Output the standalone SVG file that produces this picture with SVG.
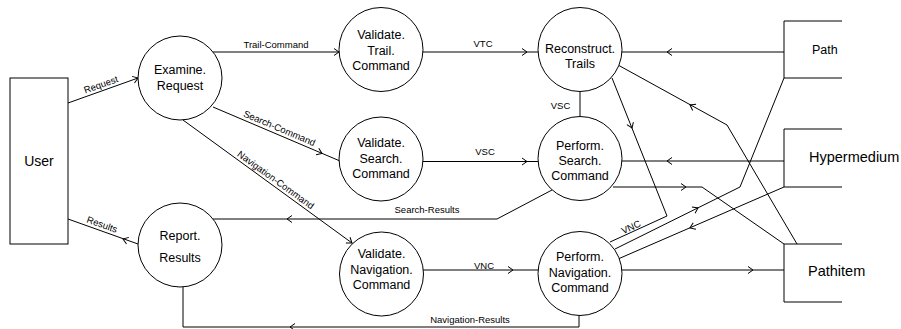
<svg xmlns="http://www.w3.org/2000/svg" xmlns:xlink="http://www.w3.org/1999/xlink" width="901" height="329" viewBox="0 0 901 329">
<defs>
<style>
.n{fill:#fff;stroke:#000;stroke-width:1}
.s{fill:none;stroke:#000;stroke-width:1}
.t{font-family:"Liberation Sans",Arial,sans-serif;font-size:12.5px;fill:#000;text-anchor:middle}
.big{font-family:"Liberation Sans",Arial,sans-serif;font-size:14.5px;fill:#000}
.l{font-family:"Liberation Sans",Arial,sans-serif;font-size:9.5px;fill:#000;text-anchor:middle}
.c{fill:none;stroke:#000;stroke-width:1}
</style>
<path id="ah" d="M-5,-3.5 L0,0 L-5,3.5" fill="none" stroke="#000" stroke-width="1"/>
</defs>
<rect width="901" height="329" fill="#fff"/>

<g id="connectors">
<path class="c" d="M68,103 L138,78"/>
<path class="c" d="M213,52 L339,52"/>
<path class="c" d="M213,107 L340,161"/>
<path class="c" d="M183,120 L352,243"/>
<path class="c" d="M423,52 L538,52"/>
<path class="c" d="M423,161.5 L538,161.5"/>
<path class="c" d="M580,91 L580,117"/>
<path class="c" d="M784,52 L622,52"/>
<path class="c" d="M784,161 L622,161"/>
<path class="c" d="M613,187 L702,187 L784,244"/>
<path class="c" d="M552,190 L497,219 L213,219"/>
<path class="c" d="M138,244 L68,219"/>
<path class="c" d="M423,270 L538,270"/>
<path class="c" d="M579,313 L579,327 L183,327 L183,287"/>
<path class="c" d="M612,78 L667,216 L610,242"/>
<path class="c" d="M615,249 L740,187 L784,78"/>
<path class="c" d="M784,187 L618,259"/>
<path class="c" d="M797,244 L727,125 L618,65"/>
<path class="c" d="M622,270 L784,270"/>
<use xlink:href="#ah" transform="translate(138,78) rotate(-19.65)"/>
<use xlink:href="#ah" transform="translate(339,52)"/>
<use xlink:href="#ah" transform="translate(322,153.5) rotate(23)"/>
<use xlink:href="#ah" transform="translate(352,243) rotate(36)"/>
<use xlink:href="#ah" transform="translate(527,52)"/>
<use xlink:href="#ah" transform="translate(527,161.5)"/>
<use xlink:href="#ah" transform="translate(667,52) rotate(180)"/>
<use xlink:href="#ah" transform="translate(667,161) rotate(180)"/>
<use xlink:href="#ah" transform="translate(686,187)"/>
<use xlink:href="#ah" transform="translate(287,219) rotate(180)"/>
<use xlink:href="#ah" transform="translate(123,239) rotate(-160.35)"/>
<use xlink:href="#ah" transform="translate(513,270)"/>
<use xlink:href="#ah" transform="translate(290,327) rotate(180)"/>
<use xlink:href="#ah" transform="translate(632,128) rotate(68.3)"/>
<use xlink:href="#ah" transform="translate(698,208) rotate(-26.4)"/>
<use xlink:href="#ah" transform="translate(690,228) rotate(156.6)"/>
<use xlink:href="#ah" transform="translate(690,105) rotate(-151.2)"/>
<use xlink:href="#ah" transform="translate(753,270)"/>
<text class="l" x="276" y="48">Trail-Command</text>
<text class="l" transform="translate(103,90.5) rotate(-19.65)" y="-3">Request</text>
<text class="l" transform="translate(277,134) rotate(23)" y="-3">Search-Command</text>
<text class="l" transform="translate(272,185) rotate(36)" y="-3">Navigation-Command</text>
<text class="l" x="483" y="47">VTC</text>
<text class="l" x="485" y="155">VSC</text>
<text class="l" x="560.5" y="109">VSC</text>
<text class="l" x="427" y="213">Search-Results</text>
<text class="l" transform="translate(100,230.4) rotate(19.65)" y="-3">Results</text>
<text class="l" x="484" y="268.5">VNC</text>
<text class="l" x="470" y="323">Navigation-Results</text>
<text class="l" transform="translate(633,231.5) rotate(-24.5)" y="-1.5">VNC</text>
</g>

<g id="user">
<rect class="n" x="10" y="78" width="58" height="166"/>
<text class="t" x="39" y="166" style="font-size:14px">User</text>
</g>
<g id="path">
<path class="s" d="M842,21 H784 V78 H842"/>
<text class="big" x="812" y="53.5" style="font-size:12.5px">Path</text>
</g>
<g id="hypermedium">
<path class="s" d="M842,129 H784 V187 H842"/>
<text class="big" x="809" y="161.5">Hypermedium</text>
</g>
<g id="pathitem">
<path class="s" d="M842,244 H784 V302 H842"/>
<text class="big" x="808" y="276">Pathitem</text>
</g>

<g id="examine-request">
<circle class="n" cx="180" cy="78" r="42"/>
<text class="t" x="180" y="73.5">Examine.</text>
<text class="t" x="180" y="90">Request</text>
</g>
<g id="validate-trail-command">
<circle class="n" cx="381" cy="49.5" r="42"/>
<text class="t" x="381" y="39">Validate.</text>
<text class="t" x="381" y="54.5">Trail.</text>
<text class="t" x="381" y="70">Command</text>
</g>
<g id="reconstruct-trails">
<circle class="n" cx="580" cy="49.5" r="42"/>
<text class="t" x="580" y="53">Reconstruct.</text>
<text class="t" x="580" y="68">Trails</text>
</g>
<g id="validate-search-command">
<circle class="n" cx="381" cy="159" r="42"/>
<text class="t" x="381" y="147">Validate.</text>
<text class="t" x="381" y="162.5">Search.</text>
<text class="t" x="381" y="178">Command</text>
</g>
<g id="perform-search-command">
<circle class="n" cx="580" cy="158.5" r="42"/>
<text class="t" x="580" y="150">Perform.</text>
<text class="t" x="580" y="165">Search.</text>
<text class="t" x="580" y="180">Command</text>
</g>
<g id="report-results">
<circle class="n" cx="180" cy="245" r="42"/>
<text class="t" x="180" y="239.5">Report.</text>
<text class="t" x="180" y="261.5">Results</text>
</g>
<g id="validate-navigation-command">
<circle class="n" cx="381.5" cy="274" r="42"/>
<text class="t" x="381.5" y="258">Validate.</text>
<text class="t" x="381.5" y="273.5">Navigation.</text>
<text class="t" x="381.5" y="289">Command</text>
</g>
<g id="perform-navigation-command">
<circle class="n" cx="580" cy="273.5" r="42"/>
<text class="t" x="580" y="261">Perform.</text>
<text class="t" x="580" y="276.5">Navigation.</text>
<text class="t" x="580" y="292">Command</text>
</g>
</svg>
